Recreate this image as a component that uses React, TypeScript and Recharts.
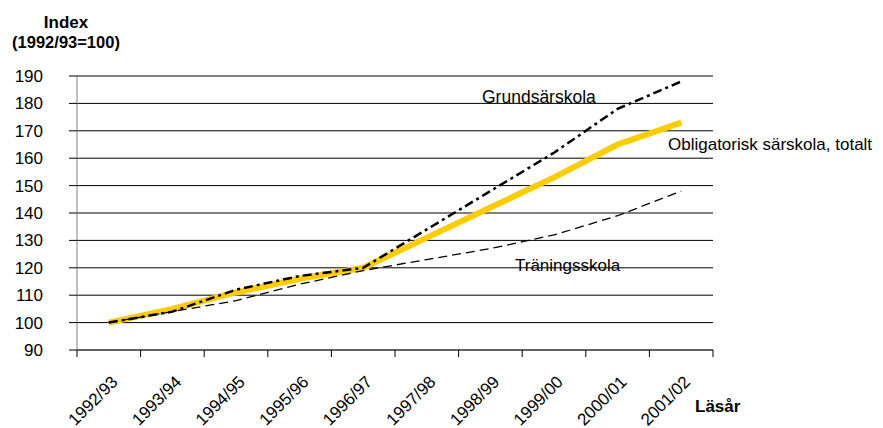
import React from "react";
import {
  LineChart,
  Line,
  XAxis,
  YAxis,
  CartesianGrid,
} from "recharts";

const years = [
  "1992/93",
  "1993/94",
  "1994/95",
  "1995/96",
  "1996/97",
  "1997/98",
  "1998/99",
  "1999/00",
  "2000/01",
  "2001/02",
];
const grundsarskola = [100, 104, 112, 117, 120, 134, 148, 162, 178, 188];
const totalt = [100, 105, 111, 116, 120, 131, 142, 153, 165, 173];
const traningsskola = [100, 104, 108, 114, 119, 123, 127, 132, 139, 148];
const yTicks = [90, 100, 110, 120, 130, 140, 150, 160, 170, 180, 190];

const data = years.map((year, i) => ({
  year,
  grund: grundsarskola[i],
  totalt: totalt[i],
  traning: traningsskola[i],
}));

const W = 883;
const H = 428;
const FONT = "'Liberation Sans', Arial, sans-serif";
const PLOT_W = 636;
const HALF_BAND = PLOT_W / years.length / 2;

const YearTick = (props: any) => {
  const { x, y, payload, index } = props;
  return (
    <g>
      <line x1={x - HALF_BAND} y1={y} x2={x - HALF_BAND} y2={y + 7} stroke="#000" />
      {index === years.length - 1 && (
        <line x1={x + HALF_BAND} y1={y} x2={x + HALF_BAND} y2={y + 7} stroke="#000" />
      )}
      <text
        transform={`translate(${x + 10},${y + 33}) rotate(-45)`}
        textAnchor="end"
        fontSize={17}
        fontFamily={FONT}
        fill="#000"
      >
        {payload.value}
      </text>
    </g>
  );
};

export default function App() {
  return (
    <div style={{ position: "absolute", left: 0, top: 0, width: W, height: H, background: "#fff" }}>
      <LineChart
        width={W}
        height={H}
        data={data}
        margin={{ top: 76, right: 170, bottom: 0, left: 0 }}
      >
        <CartesianGrid vertical={false} stroke="#000" />
        <XAxis
          dataKey="year"
          scale="band"
          height={78}
          tickLine={false}
          tickSize={0}
          tickMargin={0}
          axisLine={{ stroke: "#444" }}
          tick={<YearTick />}
          interval={0}
        />
        <YAxis
          width={77}
          domain={[90, 190]}
          ticks={yTicks}
          interval={0}
          tickSize={8}
          tickMargin={26}
          axisLine={{ stroke: "#808080" }}
          tickLine={{ stroke: "#000" }}
          tick={{ fontSize: 17, fontFamily: FONT, fill: "#000" }}
        />
        <Line
          dataKey="totalt"
          stroke="#FFCC00"
          strokeWidth={6}
          dot={false}
          isAnimationActive={false}
        />
        <Line
          dataKey="traning"
          stroke="#000"
          strokeWidth={1.3}
          strokeDasharray="9 5"
          dot={false}
          isAnimationActive={false}
        />
        <Line
          dataKey="grund"
          stroke="#000"
          strokeWidth={2.5}
          strokeDasharray="9 4 3 4"
          dot={false}
          isAnimationActive={false}
        />
      </LineChart>
      <svg
        width={W}
        height={H}
        style={{ position: "absolute", left: 0, top: 0, pointerEvents: "none" }}
        fontFamily={FONT}
      >
        <text x={66} y={28} textAnchor="middle" fontSize={17} fontWeight="bold">
          Index
        </text>
        <text x={66} y={48} textAnchor="middle" fontSize={16.5} fontWeight="bold">
          (1992/93=100)
        </text>
        <text x={482} y={103} fontSize={17.5}>
          Grundsärskola
        </text>
        <text x={668} y={150} fontSize={17}>
          Obligatorisk särskola, totalt
        </text>
        <text x={515} y={271} fontSize={17}>
          Träningsskola
        </text>
        <text x={695} y={412} fontSize={17} fontWeight="bold">
          Läsår
        </text>
      </svg>
    </div>
  );
}
